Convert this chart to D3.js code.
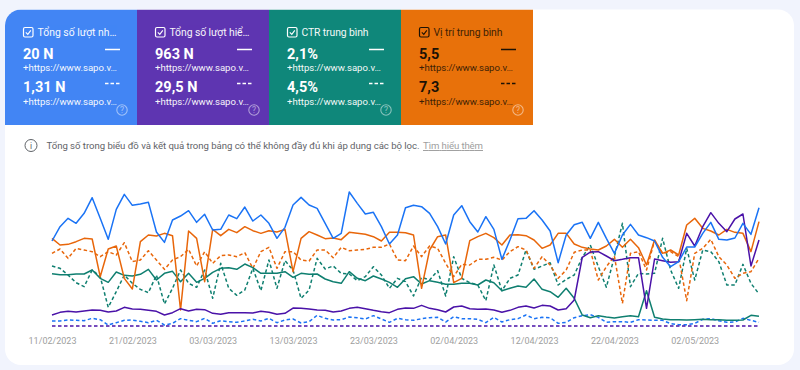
<!DOCTYPE html>
<html><head><meta charset="utf-8">
<style>html,body{margin:0;padding:0;background:#f1f4fd}svg{display:block}text{font-family:Roboto,sans-serif}</style>
<script src="https://cdn.jsdelivr.net/npm/d3@7"></script>
</head><body><div id="chart"></div>
<script>
// Each metric has its own hidden axis in the original; values are read on one shared relative scale.
const startDate = "2023-02-11";
const tickLabels = ["2023-02-11","2023-02-21","2023-03-03","2023-03-13","2023-03-23","2023-04-02","2023-04-12","2023-04-22","2023-05-02"];
const clicksMain = [257,300,325,310,340,387,325,262,352,397,364,368,373,284,253,320,332,348,313,337,290,292,335,324,359,317,335,310,265,298,365,388,365,355,310,265,280,404,370,338,343,300,248,275,357,364,360,340,300,248,335,363,315,284,330,292,202,260,324,325,348,320,287,192,275,306,313,265,313,265,220,275,307,275,267,257,208,180,195,239,239,280,313,262,260,266,310,277,357];
const clicksCompare = [17,17,20,19,18,25,21,5,12,19,20,16,12,19,5,10,24,19,15,25,10,18,15,13,17,22,17,25,12,20,23,11,15,34,25,20,21,29,27,23,33,23,13,25,21,19,24,27,28,14,30,24,24,22,12,28,14,21,24,35,24,28,27,10,13,27,33,36,28,13,15,15,13,21,20,19,19,9,6,6,10,22,24,18,13,14,25,19,13];
const impressionsMain = [35,43,46,44,47,50,49,44,47,58,53,52,49,46,35,42,54,47,52,51,40,37,42,42,42,41,46,43,37,40,56,55,53,50,49,44,47,55,58,54,49,45,42,52,56,55,64,55,51,44,59,62,54,52,53,50,43,49,58,62,56,64,62,50,54,80,208,224,225,212,198,202,207,207,55,203,198,193,195,280,242,300,342,310,285,323,338,182,260];
const impressionsCompare = [2,2,2,2,2,2,2,2,2,2,2,2,2,2,2,2,2,2,2,2,2,2,2,2,2,2,2,2,2,2,2,2,2,2,2,2,2,2,2,2,2,2,2,2,2,2,2,2,2,2,2,2,2,2,2,2,2,2,2,2,2,2,2,2,2,2,2,2,2,2,2,2,2,2,2,2,2,2,2,2,2,2,2,2,2,2,2,2,2];
const ctrMain = [159,156,156,158,158,170,145,133,164,154,152,157,172,140,160,166,135,160,133,145,163,175,177,172,188,177,160,160,160,165,148,160,157,158,143,135,130,165,145,138,152,143,133,118,144,150,128,138,133,127,127,130,130,125,140,132,108,115,122,118,143,112,105,88,115,85,35,27,33,29,26,30,33,30,108,28,23,21,21,20,21,22,21,21,19,19,20,34,31];
const ctrCompare = [182,175,155,132,120,170,150,58,105,155,130,112,102,155,68,115,170,130,118,170,85,190,115,94,110,175,108,200,115,198,170,85,110,205,173,182,160,158,138,150,180,155,115,145,135,92,148,140,168,92,210,145,132,125,78,185,108,145,155,230,172,182,192,125,142,155,208,245,180,118,210,310,120,160,158,160,265,170,115,235,140,230,225,195,125,125,187,130,98];
const positionMain = [265,245,247,255,265,263,150,233,242,145,113,255,275,272,280,273,50,287,265,135,292,273,292,282,300,288,280,288,284,292,165,265,285,275,264,266,261,283,280,277,270,257,283,283,282,275,115,230,270,275,132,145,258,270,280,267,245,275,276,273,260,235,245,280,280,248,238,233,230,242,262,238,262,237,185,260,220,230,215,305,325,295,287,275,292,283,280,225,315];
const positionCompare = [220,233,205,235,230,225,210,225,215,252,195,200,228,200,172,200,210,232,182,225,190,213,215,210,222,175,225,238,175,225,225,200,197,230,230,207,238,228,230,232,238,238,248,200,198,242,210,242,235,190,150,187,185,202,202,208,200,225,240,230,175,210,185,145,170,223,230,230,140,180,212,70,220,225,170,258,220,225,210,78,220,235,262,210,185,145,160,165,205];

const cardTitles = ["Tổng số lượt nh…","Tổng số lượt hiể…","CTR trung bình","Vị trí trung bình"];
const cardMain = ["20 N","963 N","2,1%","5,5"];
const cardCompare = ["1,31 N","29,5 N","4,5%","7,3"];
const cardUrl = "+https://www.sapo.v…";
const cardFills = ["#4285f4","#5e35b1","#0f877a","#e8710a"];
const cardInks = ["#fff","#fff","#fff","#1c1205"];
const noteText = "Tổng số trong biểu đồ và kết quả trong bảng có thể không đầy đủ khi áp dụng các bộ lọc.";
const noteLink = "Tìm hiểu thêm";

const W = 800, H = 370;
const svg = d3.select("#chart").append("svg").attr("width", W).attr("height", H);
svg.append("rect").attr("width", W).attr("height", H).attr("fill", "#f1f4fd");
const clipId = "panel";
svg.append("clipPath").attr("id", clipId).append("rect").attr("x", 5).attr("y", 9.5).attr("width", 789).attr("height", 355.5).attr("rx", 16);
svg.append("rect").attr("x", 5).attr("y", 9.5).attr("width", 789).attr("height", 355.5).attr("rx", 16).attr("fill", "#fff");

// cards
const titleWidths = [79, 80, 67, 69];
const cardX = d3.scaleBand().domain(d3.range(4)).range([5, 533]);
const cards = svg.append("g").attr("clip-path", `url(#${clipId})`).selectAll("g").data(cardTitles).join("g")
  .attr("transform", (d, i) => `translate(${cardX(i)},9.5)`);
cards.append("rect").attr("width", cardX.bandwidth()).attr("height", 115.5).attr("fill", (d, i) => cardFills[i]);
cards.each(function (title, i) {
  const g = d3.select(this), ink = cardInks[i];
  const subOp = i === 3 ? 0.85 : 0.95;
  g.append("rect").attr("x", 18.5).attr("y", 18).attr("width", 9.5).attr("height", 9.5).attr("rx", 1.5)
    .attr("fill", "none").attr("stroke", ink).attr("stroke-width", 1.2);
  g.append("path").attr("d", "M20.8 22.8l2 2 3-4").attr("fill", "none").attr("stroke", ink).attr("stroke-width", 1.1);
  g.append("text").attr("x", 32.5).attr("y", 26.5).attr("font-size", 10.4).attr("fill", ink).attr("opacity", subOp)
    .attr("textLength", titleWidths[i]).attr("lengthAdjust", "spacing").text(title);
  g.append("text").attr("x", 18).attr("y", 49).attr("font-size", 14.5).attr("font-weight", 700).attr("fill", ink).text(cardMain[i]);
  g.append("text").attr("x", 18).attr("y", 61.5).attr("font-size", 9.6).attr("fill", ink).attr("opacity", subOp)
    .attr("textLength", 94).attr("lengthAdjust", "spacing").text(cardUrl);
  g.append("text").attr("x", 18).attr("y", 82.5).attr("font-size", 14.5).attr("font-weight", 700).attr("fill", ink).text(cardCompare[i]);
  g.append("text").attr("x", 18).attr("y", 95.5).attr("font-size", 9.6).attr("fill", ink).attr("opacity", subOp)
    .attr("textLength", 94).attr("lengthAdjust", "spacing").text(cardUrl);
  g.append("line").attr("x1", 100).attr("x2", 115).attr("y1", 40).attr("y2", 40).attr("stroke", ink).attr("stroke-width", 1.5);
  g.append("line").attr("x1", 100).attr("x2", 115).attr("y1", 74).attr("y2", 74).attr("stroke", ink).attr("stroke-width", 1.5).attr("stroke-dasharray", "3.5 2");
  const q = g.append("g").attr("transform", "translate(117,100.5)").attr("opacity", 0.5);
  q.append("circle").attr("r", 5.2).attr("fill", "none").attr("stroke", "#fff").attr("stroke-width", 1.1);
  q.append("text").attr("text-anchor", "middle").attr("y", 3.2).attr("font-size", 8.5).attr("fill", "#fff").text("?");
});

// note
const info = svg.append("g").attr("transform", "translate(31,145.5)");
info.append("circle").attr("r", 6).attr("fill", "none").attr("stroke", "#5f6368").attr("stroke-width", 1);
info.append("text").attr("text-anchor", "middle").attr("y", 3).attr("font-size", 8.5).attr("fill", "#5f6368").text("i");
svg.append("text").attr("x", 46.5).attr("y", 149).attr("font-size", 9.6).attr("fill", "#5f6368")
  .attr("textLength", 373).attr("lengthAdjust", "spacing").text(noteText);
svg.append("text").attr("x", 423).attr("y", 149).attr("font-size", 9.6).attr("fill", "#9e9e9e").attr("text-decoration", "underline")
  .attr("textLength", 60).attr("lengthAdjust", "spacing").text(noteLink);

// chart
const parse = d3.utcParse("%Y-%m-%d");
const start = parse(startDate);
const n = clicksMain.length;
const dates = d3.range(n).map(i => d3.utcDay.offset(start, i));
const x = d3.scaleUtc().domain([start, dates[n - 1]]).range([52, 759]);
const y = d3.scaleLinear().domain([0, 450]).range([326.67, 176.67]);
const line = d3.line().x((d, i) => x(dates[i])).y(d => y(d));
const seriesList = [
  {v: ctrCompare, c: "#0f7f70", dash: true},
  {v: positionCompare, c: "#e8660a", dash: true},
  {v: clicksCompare, c: "#1a73f5", dash: true},
  {v: impressionsCompare, c: "#4a12a8", dash: true},
  {v: ctrMain, c: "#0f7f70"},
  {v: positionMain, c: "#e8660a"},
  {v: impressionsMain, c: "#4a12a8"},
  {v: clicksMain, c: "#1a73f5"}
];
svg.append("g").selectAll("path").data(seriesList).join("path")
  .attr("d", d => line(d.v)).attr("fill", "none").attr("stroke", d => d.c)
  .attr("stroke-width", 1.5).attr("stroke-linejoin", "round")
  .attr("stroke-dasharray", d => d.dash ? "3.5 2.5" : null);

const axis = d3.axisBottom(x).tickValues(tickLabels.map(parse)).tickFormat(d3.utcFormat("%d/%m/%Y")).tickSize(0).tickPadding(0);
const ax = svg.append("g").attr("transform", "translate(0,337.5)").call(axis);
ax.select(".domain").remove();
ax.selectAll("text").attr("font-family", "Roboto,sans-serif").attr("font-size", 9).attr("fill", "#9e9e9e").attr("dy", "0.71em");
</script></body></html>
